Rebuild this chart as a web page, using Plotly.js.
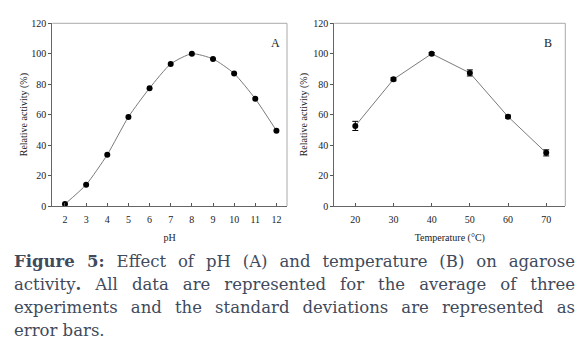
<!DOCTYPE html>
<html><head><meta charset="utf-8">
<script src="https://cdn.plot.ly/plotly-3.0.1.min.js"></script>
<style>html,body{margin:0;padding:0;background:#fff}#chart{width:588px;height:355px}</style>
</head><body><div id="chart"></div>
<script>
// Panel A: pH
const phValues = [2, 3, 4, 5, 6, 7, 8, 9, 10, 11, 12];
const phActivity = [1.3, 14.0, 33.7, 58.5, 77.4, 93.3, 100, 96.6, 87.0, 70.4, 49.5];
const phError = [0.8, 0.8, 0.8, 0.8, 0.8, 0.8, 0.8, 0.8, 0.8, 0.8, 0.8];
// Panel B: temperature
const tempValues = [20, 30, 40, 50, 60, 70];
const tempActivity = [52.6, 83.2, 100, 87.4, 58.7, 34.9];
const tempError = [3.0, 1.0, 0.8, 2.0, 1.0, 2.0];
const yTicks = [0, 20, 40, 60, 80, 100, 120];
const phTicks = [2, 3, 4, 5, 6, 7, 8, 9, 10, 11, 12];
const tempTicks = [20, 30, 40, 50, 60, 70];
const captionLines = [
  "<b>Figure 5:</b> Effect of pH (A) and temperature (B) on agarose",
  "activity<b>.</b> All data are represented for the average of three",
  "experiments and the standard deviations are represented as",
  "error bars."
];

const W = 588, H = 355;
const serif = "Liberation Serif, Times New Roman, serif";
const capFont = "DejaVu Serif, serif";
const px = v => v / W, py = v => 1 - v / H;

const traces = [
  {x: phValues, y: phActivity, xaxis: 'x', yaxis: 'y', type: 'scatter', mode: 'lines+markers',
   line: {color: '#7a7a7a', width: 1, shape: 'spline', smoothing: 0.6},
   marker: {color: '#000', size: 6},
   error_y: {type: 'data', array: phError, color: '#000', thickness: 1, width: 2}},
  {x: tempValues, y: tempActivity, xaxis: 'x2', yaxis: 'y2', type: 'scatter', mode: 'lines+markers',
   line: {color: '#7a7a7a', width: 1},
   marker: {color: '#000', size: 6},
   error_y: {type: 'data', array: tempError, color: '#000', thickness: 1, width: 3}}
];

const yDom = [py(206), py(23.3)];
const axisY = {
  domain: yDom, range: [0, 120], tickvals: yTicks, ticks: 'outside', ticklen: 3, tickcolor: '#555',
  showgrid: false, zeroline: false, showline: true, linecolor: '#666', linewidth: 1,
  tickfont: {family: serif, size: 10, color: '#222'}
};
const axisX = {
  ticks: 'inside', ticklen: 3, tickcolor: '#555', showgrid: false, zeroline: false,
  showline: true, linecolor: '#666', linewidth: 1, ticklabelstandoff: 4,
  tickfont: {family: serif, size: 10, color: '#222'}
};
const yTitleFont = {family: serif, size: 10, color: '#222'};

const layout = {
  width: W, height: H, margin: {l: 0, r: 0, t: 0, b: 0},
  paper_bgcolor: '#fff', plot_bgcolor: '#fff', showlegend: false,
  xaxis: Object.assign({}, axisX, {domain: [px(52.3), px(287)], range: [1.4, 12.5], tickvals: phTicks,
    anchor: 'y', title: {text: 'pH', font: {family: serif, size: 10, color: '#222'}, standoff: 9}}),
  yaxis: Object.assign({}, axisY, {anchor: 'x',
    title: {text: 'Relative activity (%)', font: yTitleFont, standoff: 1}}),
  xaxis2: Object.assign({}, axisX, {domain: [px(334.3), px(565.3)], range: [14.5, 75], tickvals: tempTicks,
    anchor: 'y2', title: {text: 'Temperature (°C)', font: {family: serif, size: 10, color: '#222'}, standoff: 9}}),
  yaxis2: Object.assign({}, axisY, {anchor: 'x2',
    title: {text: 'Relative activity (%)', font: yTitleFont, standoff: 3}}),
  shapes: [
    {type: 'line', xref: 'x domain', yref: 'y domain', x0: 0, x1: 1, y0: 1, y1: 1, line: {color: '#aaa', width: 1}},
    {type: 'line', xref: 'x domain', yref: 'y domain', x0: 1, x1: 1, y0: 0, y1: 1, line: {color: '#aaa', width: 1}},
    {type: 'line', xref: 'x2 domain', yref: 'y2 domain', x0: 0, x1: 1, y0: 1, y1: 1, line: {color: '#aaa', width: 1}},
    {type: 'line', xref: 'x2 domain', yref: 'y2 domain', x0: 1, x1: 1, y0: 0, y1: 1, line: {color: '#aaa', width: 1}}
  ],
  annotations: [
    {text: 'A', xref: 'paper', yref: 'paper', x: px(275), y: py(34), showarrow: false,
     font: {family: serif, size: 12, color: '#222'}},
    {text: 'B', xref: 'paper', yref: 'paper', x: px(554), y: py(34), showarrow: false,
     font: {family: serif, size: 12, color: '#222'}}
  ]
};
const captionCenters = [261, 284, 307.5, 330];
captionLines.forEach((t, i) => {
  layout.annotations.push({text: t, xref: 'paper', yref: 'paper', x: px(14), y: py(captionCenters[i]),
    xanchor: 'left', yanchor: 'middle', showarrow: false, align: 'left',
    font: {family: capFont, size: 16.5, color: '#3f4a5c'}});
});

Plotly.newPlot('chart', traces, layout, {displayModeBar: false, staticPlot: true}).then(gd => {
  // justify the first three caption lines between x=14 and x=575; align the last line left
  const left = 14, right = 575;
  const plain = captionLines.map(l => l.replace(/<[^>]+>/g, ''));
  gd.querySelectorAll('.annotation-text').forEach(el => {
    const s = el.textContent;
    const idx = plain.indexOf(s);
    if (idx < 0) return;
    const spaces = (s.match(/ /g) || []).length;
    if (idx < 3 && spaces > 0) {
      let ws = 0;
      for (let k = 0; k < 4; k++) {
        el.style.wordSpacing = ws + 'px';
        const r = el.getBoundingClientRect();
        ws += ((right - left) - r.width) / spaces;
      }
      el.style.wordSpacing = ws + 'px';
    }
    const r = el.getBoundingClientRect();
    const dx = left - r.left;
    const tr = el.getAttribute('transform') || '';
    el.setAttribute('transform', tr + ' translate(' + dx + ',0)');
  });
});
</script></body></html>
